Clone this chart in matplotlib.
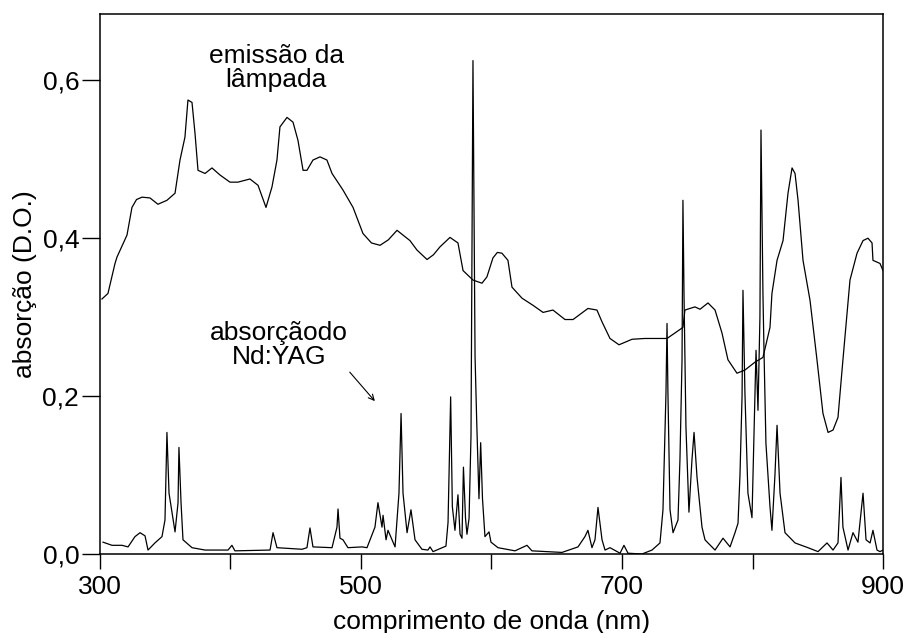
import numpy as np
import matplotlib
matplotlib.use('Agg')
import matplotlib.pyplot as plt

plt.rcParams['font.family'] = ['Liberation Sans', 'DejaVu Sans']

# lamp emission spectrum (nm, D.O.)
lamp_nm = [301.5, 306.1, 311.5, 313.0, 320.7, 324.5, 328.0, 332.2, 338.3, 344.4, 351.3,
           357.5, 361.3, 365.1, 367.4, 370.5, 372.8, 375.1, 380.5, 385.8, 392.0,
           399.6, 405.7, 414.9, 421.1, 427.2, 431.8, 435.6, 437.9, 443.3, 447.9,
           451.7, 455.6, 458.6, 463.2, 468.6, 473.9, 477.8, 486.2, 493.9, 501.5,
           508.0, 514.6, 521.0, 527.6, 537.5, 542.9, 550.6, 555.5, 560.5, 568.2, 574.3, 578.2, 585.8,
           592.7, 596.5, 601.1, 604.5, 608.0, 612.6, 615.7, 623.4, 631.8, 639.5, 647.1,
           656.3, 662.5, 673.9, 680.8, 684.7, 690.8, 697.7, 707.7, 717.6, 734.5,
           740.6, 746.7, 748.2, 755.9, 759.8, 765.9, 771.3, 776.6, 781.2, 788.1,
           794.2, 801.9, 808.0, 813.4, 814.9, 818.8, 823.4, 827.2, 830.3, 832.6,
           834.9, 838.7, 844.1, 849.4, 854.0, 857.9, 861.7, 865.5, 869.3, 874.7,
           880.1, 884.7, 888.5, 891.6, 892.3, 897.7, 900.0]
lamp_do = [0.323, 0.330, 0.368, 0.376, 0.404, 0.439, 0.449, 0.452, 0.451, 0.443, 0.448,
           0.457, 0.499, 0.528, 0.575, 0.572, 0.533, 0.486, 0.482, 0.489, 0.480,
           0.471, 0.471, 0.475, 0.467, 0.439, 0.465, 0.499, 0.541, 0.553, 0.547,
           0.524, 0.486, 0.486, 0.499, 0.503, 0.499, 0.482, 0.461, 0.439, 0.406,
           0.394, 0.391, 0.398, 0.410, 0.397, 0.385, 0.373, 0.379, 0.389, 0.401, 0.394, 0.359, 0.347,
           0.343, 0.351, 0.375, 0.382, 0.381, 0.372, 0.338, 0.324, 0.315, 0.306, 0.309,
           0.297, 0.297, 0.311, 0.309, 0.294, 0.273, 0.265, 0.272, 0.273, 0.273,
           0.280, 0.287, 0.309, 0.313, 0.310, 0.318, 0.309, 0.280, 0.246, 0.229,
           0.233, 0.243, 0.249, 0.287, 0.330, 0.372, 0.397, 0.457, 0.489, 0.482,
           0.448, 0.372, 0.321, 0.246, 0.178, 0.154, 0.157, 0.173, 0.246, 0.347,
           0.381, 0.397, 0.400, 0.394, 0.372, 0.368, 0.359]

# Nd:YAG absorption spectrum (nm, D.O.)
yag_nm = [302.3, 309.2, 316.9, 321.5, 326.8, 330.7, 334.5, 336.8, 342.1, 347.5,
          349.8, 351.3, 352.9, 357.5, 359.8, 360.5, 362.1, 363.6, 370.5, 380.5,
          398.1, 401.1, 403.4, 430.3, 432.6, 435.6, 454.8, 458.6, 460.9, 463.2,
          477.8, 481.6, 482.4, 483.9, 486.2, 490.0, 500.8, 504.6, 510.7, 513.0,
          516.1, 516.9, 519.2, 520.7, 523.8, 526.1, 529.1, 530.7, 532.2, 535.3,
          538.3, 541.4, 546.7, 551.3, 552.9, 555.2, 565.1, 566.7, 568.7, 570.0,
          572.0, 574.3, 575.9, 577.4, 578.5, 580.1, 581.2, 582.8, 584.3, 585.8,
          587.4, 588.7, 590.4, 591.7, 593.1, 595.0, 598.1, 599.6, 605.0, 618.0,
          627.2, 631.0, 654.0, 666.3, 671.6, 673.9, 677.0, 679.3, 681.6, 684.7,
          687.0, 690.8, 698.5, 701.5, 704.6, 715.3, 723.0, 729.1, 731.4, 733.7,
          734.5, 735.2, 736.8, 739.1, 742.9, 744.4, 746.0, 746.7, 747.5, 749.0,
          751.3, 753.6, 755.2, 757.5, 761.3, 763.6, 765.9, 771.3, 777.4, 782.8,
          786.6, 788.9, 790.4, 792.0, 792.7, 794.2, 796.5, 799.6, 801.1, 802.7,
          804.2, 805.7, 806.5, 808.0, 808.8, 810.3, 813.4, 814.9, 817.2, 818.8,
          821.1, 824.9, 832.6, 842.5, 850.2, 857.1, 861.7, 865.5, 867.8, 869.3,
          873.2, 877.0, 880.8, 884.7, 887.0, 890.1, 892.3, 895.4, 897.7, 900.0]
yag_do = [0.015, 0.011, 0.011, 0.009, 0.022, 0.027, 0.023, 0.005, 0.014, 0.022,
          0.043, 0.154, 0.077, 0.028, 0.065, 0.135, 0.065, 0.018, 0.008, 0.005,
          0.005, 0.011, 0.004, 0.005, 0.027, 0.008, 0.006, 0.008, 0.033, 0.009,
          0.008, 0.034, 0.057, 0.020, 0.018, 0.008, 0.009, 0.008, 0.034, 0.065,
          0.034, 0.049, 0.018, 0.030, 0.018, 0.009, 0.077, 0.178, 0.077, 0.027,
          0.056, 0.018, 0.006, 0.005, 0.009, 0.003, 0.010, 0.040, 0.199, 0.060,
          0.030, 0.075, 0.025, 0.020, 0.110, 0.045, 0.025, 0.045, 0.150, 0.625,
          0.250, 0.166, 0.070, 0.141, 0.070, 0.022, 0.028, 0.015, 0.008, 0.004,
          0.011, 0.004, 0.002, 0.009, 0.022, 0.030, 0.008, 0.018, 0.059, 0.018,
          0.005, 0.008, 0.001, 0.011, 0.001, 0.000, 0.005, 0.014, 0.056, 0.204,
          0.292, 0.204, 0.056, 0.027, 0.043, 0.119, 0.246, 0.448, 0.330, 0.161,
          0.053, 0.119, 0.154, 0.097, 0.034, 0.018, 0.014, 0.005, 0.020, 0.009,
          0.027, 0.039, 0.100, 0.200, 0.334, 0.204, 0.077, 0.046, 0.150, 0.258,
          0.182, 0.300, 0.537, 0.330, 0.258, 0.140, 0.060, 0.030, 0.100, 0.163,
          0.077, 0.027, 0.014, 0.008, 0.003, 0.014, 0.005, 0.014, 0.097, 0.034,
          0.005, 0.027, 0.015, 0.077, 0.018, 0.014, 0.030, 0.005, 0.003, 0.005]

x_ticks = [300, 400, 500, 600, 700, 800, 900]
x_ticklabels = ['300', '', '500', '', '700', '', '900']
y_ticks = [0.0, 0.2, 0.4, 0.6]
y_ticklabels = ['0,0', '0,2', '0,4', '0,6']

fig = plt.figure(figsize=(9.09, 6.33), dpi=100)
ax = fig.add_axes([0.110, 0.1248, 0.8614, 0.8531])

ax.plot(lamp_nm, lamp_do, color='black', lw=0.9)
ax.plot(yag_nm, yag_do, color='black', lw=0.9)

ax.set_xlim(300, 900)
ax.set_ylim(0, 0.684)
ax.set_xticks(x_ticks)
ax.set_xticklabels(x_ticklabels)
ax.set_yticks(y_ticks)
ax.set_yticklabels(y_ticklabels)
ax.tick_params(axis='x', direction='out', length=11, width=1, pad=4, labelsize=19)
ax.tick_params(axis='y', direction='out', length=13, width=1, pad=2, labelsize=19)
for s in ax.spines.values():
    s.set_linewidth(1.1)

ax.set_xlabel('comprimento de onda (nm)', fontsize=19, labelpad=8)
ax.set_ylabel('absorção (D.O.)', fontsize=19, labelpad=4)

ax.text(435, 0.615, 'emissão da\nlâmpada', fontsize=19, ha='center', va='center',
        linespacing=1.0)
ax.text(437, 0.265, 'absorçãodo\nNd:YAG', fontsize=19, ha='center', va='center',
        linespacing=1.0)
ax.annotate('', xy=(512, 0.191), xytext=(490, 0.233),
            arrowprops=dict(arrowstyle='->', color='black', lw=0.8))

fig.savefig('out.png', dpi=100)
